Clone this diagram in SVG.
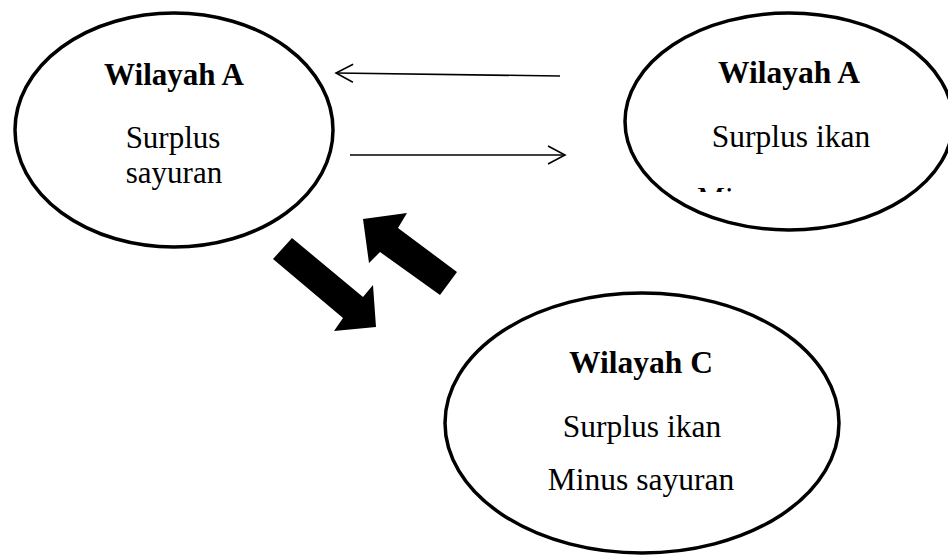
<svg xmlns="http://www.w3.org/2000/svg" width="948" height="557" viewBox="0 0 948 557">
<style>
.node ellipse{fill:#fff;stroke:#000;stroke-width:3.5}
.t{font-family:"Liberation Serif","Times New Roman",serif;font-size:31.5px;fill:#000;text-anchor:middle}
.s31{font-size:31px}
.b{font-weight:bold}
.thin{stroke:#000;stroke-width:1.6;fill:none}
.thick{fill:#000;stroke:none}
</style>
<defs>
<marker id="open" viewBox="0 0 20 20" refX="18" refY="10" markerWidth="20" markerHeight="20" markerUnits="userSpaceOnUse" orient="auto">
<path d="M1,1 L18,10 L1,19" fill="none" stroke="#000" stroke-width="1.6"/>
</marker>
<clipPath id="clipMi"><rect x="600" y="150" width="348" height="42"/></clipPath>
</defs>
<rect width="948" height="557" fill="#fff"/>
<g id="nodeA" class="node">
<ellipse cx="174" cy="130" rx="159" ry="117"/>
<text class="t s31 b" x="174" y="85">Wilayah A</text>
<text class="t s31" x="173" y="148">Surplus</text>
<text class="t s31" x="174" y="183">sayuran</text>
</g>
<g id="nodeB" class="node">
<ellipse cx="789" cy="121.5" rx="164" ry="108.5"/>
<text class="t b" x="789" y="83">Wilayah A</text>
<text class="t" x="791" y="147">Surplus ikan</text>
<text class="t" x="697" y="209" clip-path="url(#clipMi)" style="text-anchor:start">Minus sayuran</text>
</g>
<g id="nodeC" class="node">
<ellipse cx="642" cy="423" rx="197" ry="130"/>
<text class="t b" x="641" y="373">Wilayah C</text>
<text class="t" x="642" y="437">Surplus ikan</text>
<text class="t" x="641" y="490">Minus sayuran</text>
</g>
<g id="connectors">
<line class="thin" x1="560" y1="76" x2="336" y2="73" marker-end="url(#open)"/>
<line class="thin" x1="350" y1="155" x2="565" y2="155" marker-end="url(#open)"/>
<polygon class="thick" points="273,259 292,238 363,297 373,285 376,327 334,331 343,318"/>
<polygon class="thick" points="457,272 398,228 407,213 363,219 369,263 380,252 440,295"/>
</g>
</svg>
